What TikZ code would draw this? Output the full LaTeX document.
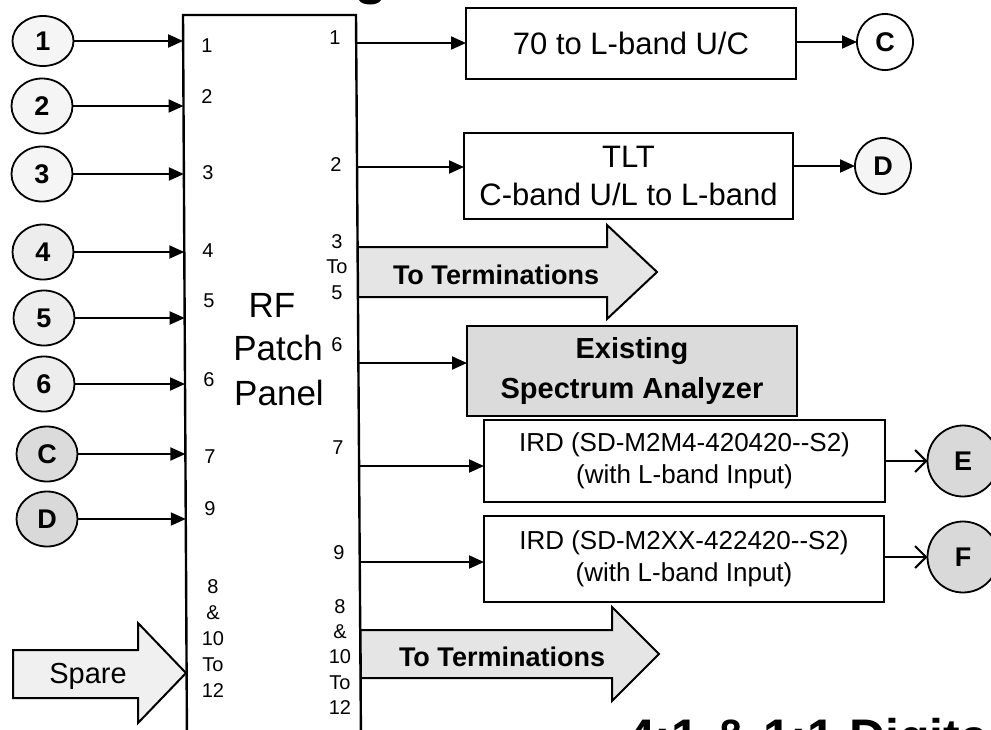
\documentclass[tikz,border=0pt]{standalone}
\usepackage{fontspec}
\setmainfont{Liberation Sans}
\usetikzlibrary{arrows.meta,shapes.geometric}
\newcommand\myNum{\fontsize{20}{26}\selectfont}
\newcommand\myNumB{\fontsize{20}{25.3}\selectfont}
\newcommand\myCirc{\fontsize{27}{30}\selectfont\bfseries}
\newcommand\myBig{\fontsize{35}{40}\selectfont}
\newcommand\myBoxA{\fontsize{31}{38}\selectfont}
\newcommand\mySA{\fontsize{29}{40}\selectfont\bfseries}
\newcommand\myIRD{\fontsize{26}{32}\selectfont}
\newcommand\myTerm{\fontsize{27}{30}\selectfont\bfseries}
\newcommand\mySpare{\fontsize{29}{32}\selectfont}
\newcommand\myTitle{\fontsize{50}{56}\selectfont\bfseries}
\begin{document}
\begin{tikzpicture}[x=1pt,y=-1pt,
  every node/.style={inner sep=0pt,outer sep=0pt},
  ln/.style={line width=2pt},
  arr/.style={line width=2pt,-{Triangle[length=15pt,width=13pt]}},
  oarr/.style={line width=2pt,-{Straight Barb[length=11pt,width=22pt]}},
  circ/.style={draw,ellipse,line width=1.8pt,minimum width=61pt,minimum height=55pt,font=\myCirc},
  rcirc/.style={draw,circle,line width=1.8pt,font=\myCirc},
  box/.style={draw,line width=2pt,align=center},
  num/.style={font=\myNum,align=center},
  numb/.style={font=\myNumB,align=center}]
\useasboundingbox (0,0) rectangle (991,729);
\fill[white] (0,0) rectangle (991,729);

% fragment of the cut-off title above
\fill (359,0) .. controls (362,6) and (378,6) .. (381,0) -- cycle;

% RF patch panel
\draw[line width=2.4pt] (187,745) -- (183,15) -- (356,15) -- (361,745);
\node[font=\myBig] (rf) at (272,305) {RF};
\node[font=\myBig] (patch) at (278,348) {Patch};
\node[font=\myBig] (panel) at (279,393) {Panel};

% left inputs
\node[circ,fill=gray!8,minimum height=50pt] (c1) at (43,41) {1};
\node[circ,fill=gray!8] (c2) at (42,106) {2};
\node[circ,fill=gray!8] (c3) at (42,174) {3};
\node[circ,fill=gray!14] (c4) at (43,252) {4};
\node[circ,fill=gray!14] (c5) at (44,318) {5};
\node[circ,fill=gray!14] (c6) at (44,384) {6};
\node[circ,fill=gray!28] (cc) at (47,454) {C};
\node[circ,fill=gray!30] (cd) at (47,519) {D};

\coordinate (pl1) at (183.1,41);
\coordinate (pl2) at (183.5,106);
\coordinate (pl3) at (183.9,174);
\coordinate (pl4) at (184.3,252);
\coordinate (pl5) at (184.7,318);
\coordinate (pl6) at (185.0,384);
\coordinate (pl7) at (185.4,454);
\coordinate (pl9) at (185.8,519);
\draw[arr] (c1) -- (pl1);
\draw[arr] (c2) -- (pl2);
\draw[arr] (c3) -- (pl3);
\draw[arr] (c4) -- (pl4);
\draw[arr] (c5) -- (pl5);
\draw[arr] (c6) -- (pl6);
\draw[arr] (cc) -- (pl7);
\draw[arr] (cd) -- (pl9);

% left port labels
\node[num] (l1) at (207,46) {1};
\node[num] (l2) at (207,97) {2};
\node[num] (l3) at (208,173) {3};
\node[num] (l4) at (208,251) {4};
\node[num] (l5) at (209,301) {5};
\node[num] (l6) at (209,380) {6};
\node[num] (l7) at (210,457) {7};
\node[num] (l9) at (210,509) {9};
\node[num] (l8) at (213,639) {8\\\&\\10\\To\\12};

% right port labels
\node[num] (r1) at (335,38) {1};
\node[num] (r2) at (336,165) {2};
\node[numb] (r3) at (337,267) {3\\To\\5};
\node[num] (r6) at (337,345) {6};
\node[num] (r7) at (338,448) {7};
\node[num] (r9) at (339,553) {9};
\node[numb] (r8) at (340,657) {8\\\&\\10\\To\\12};

% boxes
\node[box,font=\myBoxA,minimum width=330pt,minimum height=71pt] (b1) at (631,43.5) {70 to L-band U/C};
\node[box,font=\myBoxA,minimum width=329pt,minimum height=86pt] (b2) at (628.5,175.5) {TLT\\C-band U/L to L-band};
\node[box,font=\mySA,fill=gray!28,minimum width=330pt,minimum height=90pt] (sa) at (632,371) {Existing\\Spectrum Analyzer};
\node[box,font=\myIRD,minimum width=401pt,minimum height=82pt] (ird1) at (684.5,461) {IRD (SD-M2M4-420420-{}-S2)\\(with L-band Input)};
\node[box,font=\myIRD,minimum width=400pt,minimum height=86pt] (ird2) at (684,559) {IRD (SD-M2XX-422420-{}-S2)\\(with L-band Input)};

% right outputs
\node[rcirc,fill=white,minimum size=56pt] (rc) at (885,42) {C};
\node[rcirc,fill=gray!8,minimum size=56pt] (rd) at (883,166) {D};
\node[rcirc,fill=gray!30,minimum size=71pt] (re) at (963,461) {E};
\node[rcirc,fill=gray!30,minimum size=71pt] (rf2) at (963,557) {F};

\coordinate (pr1) at (356.2,43);
\coordinate (pr2) at (357.0,167);
\coordinate (pr6) at (358.4,363);
\coordinate (pr7) at (359.1,466);
\coordinate (pr9) at (359.8,562);
\draw[arr] (pr1) -- (pr1 -| b1.west);
\draw[arr] (pr2) -- (pr2 -| b2.west);
\draw[arr] (pr6) -- (pr6 -| sa.west);
\draw[arr] (pr7) -- (pr7 -| ird1.west);
\draw[arr] (pr9) -- (pr9 -| ird2.west);

\draw[arr] (b1.east |- rc.west) -- (rc.west);
\draw[arr] (b2.east |- rd.west) -- (rd.west);
\draw[oarr] (ird1.east |- re.west) -- (re.west);
\draw[oarr] (ird2.east |- rf2.west) -- (rf2.west);

% block arrows
\draw[ln,fill=gray!20] (357.8,247) -- (607,247) -- (607,225) -- (657,272) -- (607,319) -- (607,297) -- (358.2,297) -- cycle;
\node[font=\myTerm] (t1) at (496,275) {To Terminations};
\draw[ln,fill=gray!20] (360.6,630) -- (612,630) -- (612,607) -- (659,654) -- (612,701) -- (612,678) -- (360.9,678) -- cycle;
\node[font=\myTerm] (t2) at (502,657) {To Terminations};
\draw[ln,fill=gray!12] (13,650) -- (138,650) -- (138,623) -- (186,673) -- (138,723) -- (138,698) -- (13,698) -- cycle;
\node[font=\mySpare] (sp) at (88,676) {Spare};

% cut-off title
\node[anchor=base west,font=\myTitle] (title) at (627,754) {4:1 \& 1:1 Digita};
\end{tikzpicture}
\end{document}
